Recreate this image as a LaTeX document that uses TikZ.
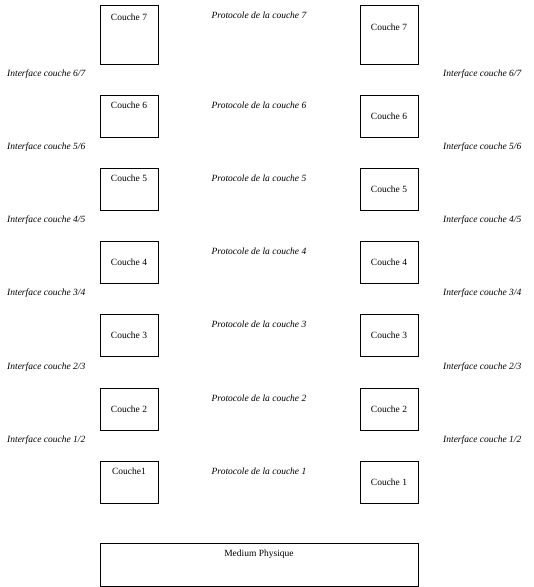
\documentclass[tikz,border=0pt]{standalone}
\usepackage{fontspec}
\setmainfont{Liberation Serif}
\begin{document}
\begin{tikzpicture}[x=1pt,y=-1pt,
  every node/.style={font=\fontsize{9.5}{11}\selectfont},
  layerbox/.style={draw,line width=0.8pt,minimum width=58pt,minimum height=42pt,inner sep=0pt},
  toptext/.style={label={[anchor=north,inner sep=0pt,yshift=-7pt]north:#1}},
  proto/.style={font=\fontsize{9.5}{11}\selectfont\itshape},
  iface/.style={font=\fontsize{9.5}{11}\selectfont\itshape,anchor=west,inner sep=0pt}]
\useasboundingbox (0,0) rectangle (534,587);
% layer 7
\node[layerbox,minimum height=59pt,label={[anchor=north,inner sep=0pt,yshift=-9pt]north:Couche 7}] (L7) at (129,34.5) {};
\node[layerbox,minimum height=59pt] (R7) at (389,34.5) {};
\node (R7t) at (389,27) {Couche 7};
\node[proto] (P7) at (259,15) {Protocole de la couche 7};
% layer 6
\node[layerbox,toptext={Couche 6}] (L6) at (129,116) {};
\node[layerbox] (R6) at (389,116) {Couche 6};
\node[proto] (P6) at (259,105) {Protocole de la couche 6};
% layer 5
\node[layerbox,toptext={Couche 5}] (L5) at (129,189) {};
\node[layerbox] (R5) at (389,189) {Couche 5};
\node[proto] (P5) at (259,178) {Protocole de la couche 5};
% layer 4
\node[layerbox] (L4) at (129,262) {Couche 4};
\node[layerbox] (R4) at (389,262) {Couche 4};
\node[proto] (P4) at (259,251) {Protocole de la couche 4};
% layer 3
\node[layerbox] (L3) at (129,335) {Couche 3};
\node[layerbox] (R3) at (389,335) {Couche 3};
\node[proto] (P3) at (259,324) {Protocole de la couche 3};
% layer 2
\node[layerbox] (L2) at (129,409) {Couche 2};
\node[layerbox] (R2) at (389,409) {Couche 2};
\node[proto] (P2) at (259,398) {Protocole de la couche 2};
% layer 1
\node[layerbox,toptext={Couche1}] (L1) at (129,482) {};
\node[layerbox] (R1) at (389,482) {Couche 1};
\node[proto] (P1) at (259,471) {Protocole de la couche 1};
% medium
\node[layerbox,minimum width=318pt,minimum height=43pt,toptext={Medium Physique}] (M) at (259,564.5) {};
% interfaces
\node[iface] (I67l) at (7,74) {Interface couche 6/7};
\node[iface] (I67r) at (443,74) {Interface couche 6/7};
\node[iface] (I56l) at (7,147) {Interface couche 5/6};
\node[iface] (I56r) at (443,147) {Interface couche 5/6};
\node[iface] (I45l) at (7,220) {Interface couche 4/5};
\node[iface] (I45r) at (443,220) {Interface couche 4/5};
\node[iface] (I34l) at (7,293) {Interface couche 3/4};
\node[iface] (I34r) at (443,293) {Interface couche 3/4};
\node[iface] (I23l) at (7,367) {Interface couche 2/3};
\node[iface] (I23r) at (443,367) {Interface couche 2/3};
\node[iface] (I12l) at (7,440) {Interface couche 1/2};
\node[iface] (I12r) at (443,440) {Interface couche 1/2};
\end{tikzpicture}
\end{document}
